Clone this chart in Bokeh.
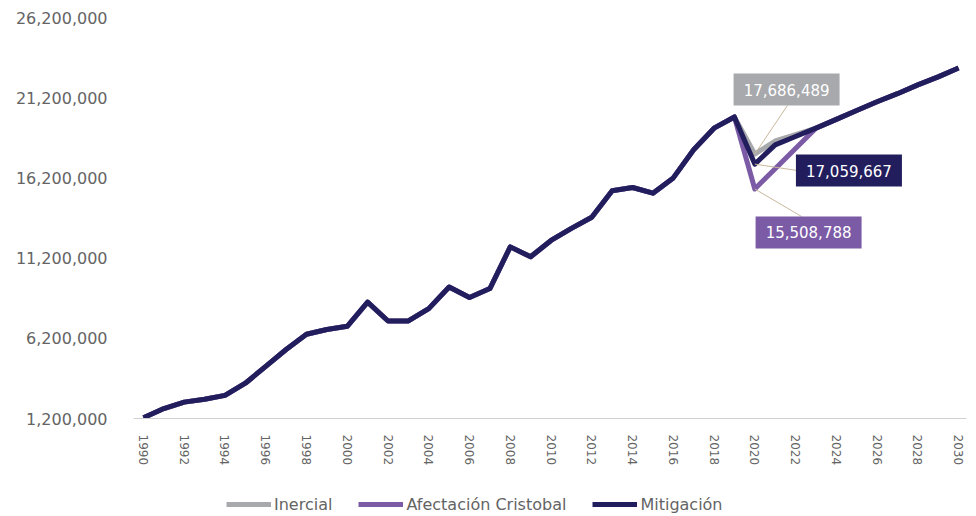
from bokeh.plotting import figure
from bokeh.layouts import column
from bokeh.models import (ColumnDataSource, FixedTicker, NumeralTickFormatter,
                          Legend, LegendItem, Range1d)
from bokeh.core.properties import value
from bokeh.embed import file_html
from bokeh.resources import INLINE

# ---------------- data ----------------
years = list(range(1990, 2031))
historical = [1.25, 1.82, 2.22, 2.40, 2.64, 3.40, 4.45, 5.50, 6.45, 6.75,
              6.95, 8.45, 7.28, 7.28, 8.05, 9.40, 8.74, 9.30, 11.90, 11.28,
              12.30, 13.05, 13.75, 15.40, 15.60, 15.25, 16.20, 17.95, 19.30, 20.00]
inercial_proj = [17.686489, 18.50, 18.90, 19.30, 19.85, 20.40, 20.95, 21.45, 22.00, 22.50, 23.05]
afectacion_proj = [15.508788, 16.77, 18.03, 19.30, 19.85, 20.40, 20.95, 21.45, 22.00, 22.50, 23.05]
mitigacion_proj = [17.059667, 18.26, 18.78, 19.30, 19.85, 20.40, 20.95, 21.45, 22.00, 22.50, 23.05]

inercial = [v * 1e6 for v in historical + inercial_proj]
afectacion = [v * 1e6 for v in historical + afectacion_proj]
mitigacion = [v * 1e6 for v in historical + mitigacion_proj]

y_ticks = [1200000, 6200000, 11200000, 16200000, 21200000, 26200000]
x_ticks = list(range(1990, 2031, 2))

series_names = ["Inercial", "Afectación Cristobal", "Mitigación"]
colors = ["#A7A9AC", "#7B5BA6", "#221E5E"]

callout_year = 2020
callout_values = [17686489, 15508788, 17059667]
callout_texts = ["17,686,489", "15,508,788", "17,059,667"]

FONT = "DejaVu Sans"
LABEL_COLOR = "#646464"

# ---------------- main figure ----------------
p = figure(width=970, height=486, output_backend="svg", toolbar_location=None,
           x_range=Range1d(1989.51, 2030.39), y_range=Range1d(1200000, 26200000),
           min_border_left=133, min_border_right=4, min_border_top=17,
           min_border_bottom=68)
p.outline_line_color = None
p.xgrid.visible = False
p.ygrid.visible = False

src = ColumnDataSource(dict(x=years, ine=inercial, afe=afectacion, mit=mitigacion))
p.line("x", "ine", source=src, line_color=colors[0], line_width=5, line_join="round")
p.line("x", "afe", source=src, line_color=colors[1], line_width=5, line_join="round")
p.line("x", "mit", source=src, line_color=colors[2], line_width=5, line_join="round")

p.yaxis.ticker = FixedTicker(ticks=y_ticks)
p.yaxis.formatter = NumeralTickFormatter(format="0,0")
p.yaxis.axis_line_color = None
p.yaxis.major_tick_line_color = None
p.yaxis.minor_tick_line_color = None
p.yaxis.major_label_standoff = 20
p.yaxis.major_label_text_font = FONT
p.yaxis.major_label_text_font_size = "16px"
p.yaxis.major_label_text_color = LABEL_COLOR

p.xaxis.ticker = FixedTicker(ticks=x_ticks)
p.xaxis.axis_line_color = "#D0D0D0"
p.xaxis.major_tick_line_color = None
p.xaxis.minor_tick_line_color = None
p.xaxis.major_label_orientation = "vertical"
p.xaxis.major_label_standoff = 10
p.xaxis.major_label_text_font = FONT
p.xaxis.major_label_text_font_size = "12px"
p.xaxis.major_label_text_color = LABEL_COLOR

# callouts: leader lines + boxes + texts
leader_color = "#C9B79C"
box_x = [2021.56, 2022.64, 2024.62]
box_y = [21710000, 12800000, 16660000]
lead_x = [2021.6, 2022.3, 2022.08]
lead_y = [20710000, 13790000, 16660000]
p.segment(x0=[callout_year] * 3, y0=callout_values, x1=lead_x, y1=lead_y,
          line_color=leader_color, line_width=1)
p.rect(x=box_x, y=box_y, width=106, height=32, width_units="screen",
       height_units="screen", fill_color=colors, line_color=None)
p.text(x=box_x, y=box_y, text=callout_texts, text_align="center",
       text_baseline="middle", text_color="white", text_font=value(FONT),
       text_font_size="15px")

# ---------------- legend strip ----------------
lf = figure(width=970, height=28, output_backend="svg", toolbar_location=None,
            x_range=Range1d(0, 1), y_range=Range1d(0, 1),
            min_border_left=0, min_border_right=0, min_border_top=0,
            min_border_bottom=0)
lf.axis.visible = False
lf.grid.visible = False
lf.outline_line_color = None
lr = [lf.line(x=[float("nan")], y=[float("nan")], line_color=c, line_width=5) for c in colors]
legend = Legend(items=[LegendItem(label=n, renderers=[r]) for n, r in zip(series_names, lr)],
                orientation="horizontal", location=(93, 0),
                glyph_width=45, glyph_height=20, label_standoff=3, spacing=26,
                label_text_font=FONT, label_text_font_size="16px",
                label_text_color=LABEL_COLOR, border_line_color=None,
                background_fill_alpha=0, margin=0, padding=4)
lf.add_layout(legend)

layout = column(p, lf, spacing=0)
open("out.html", "w").write(file_html(layout, INLINE))
